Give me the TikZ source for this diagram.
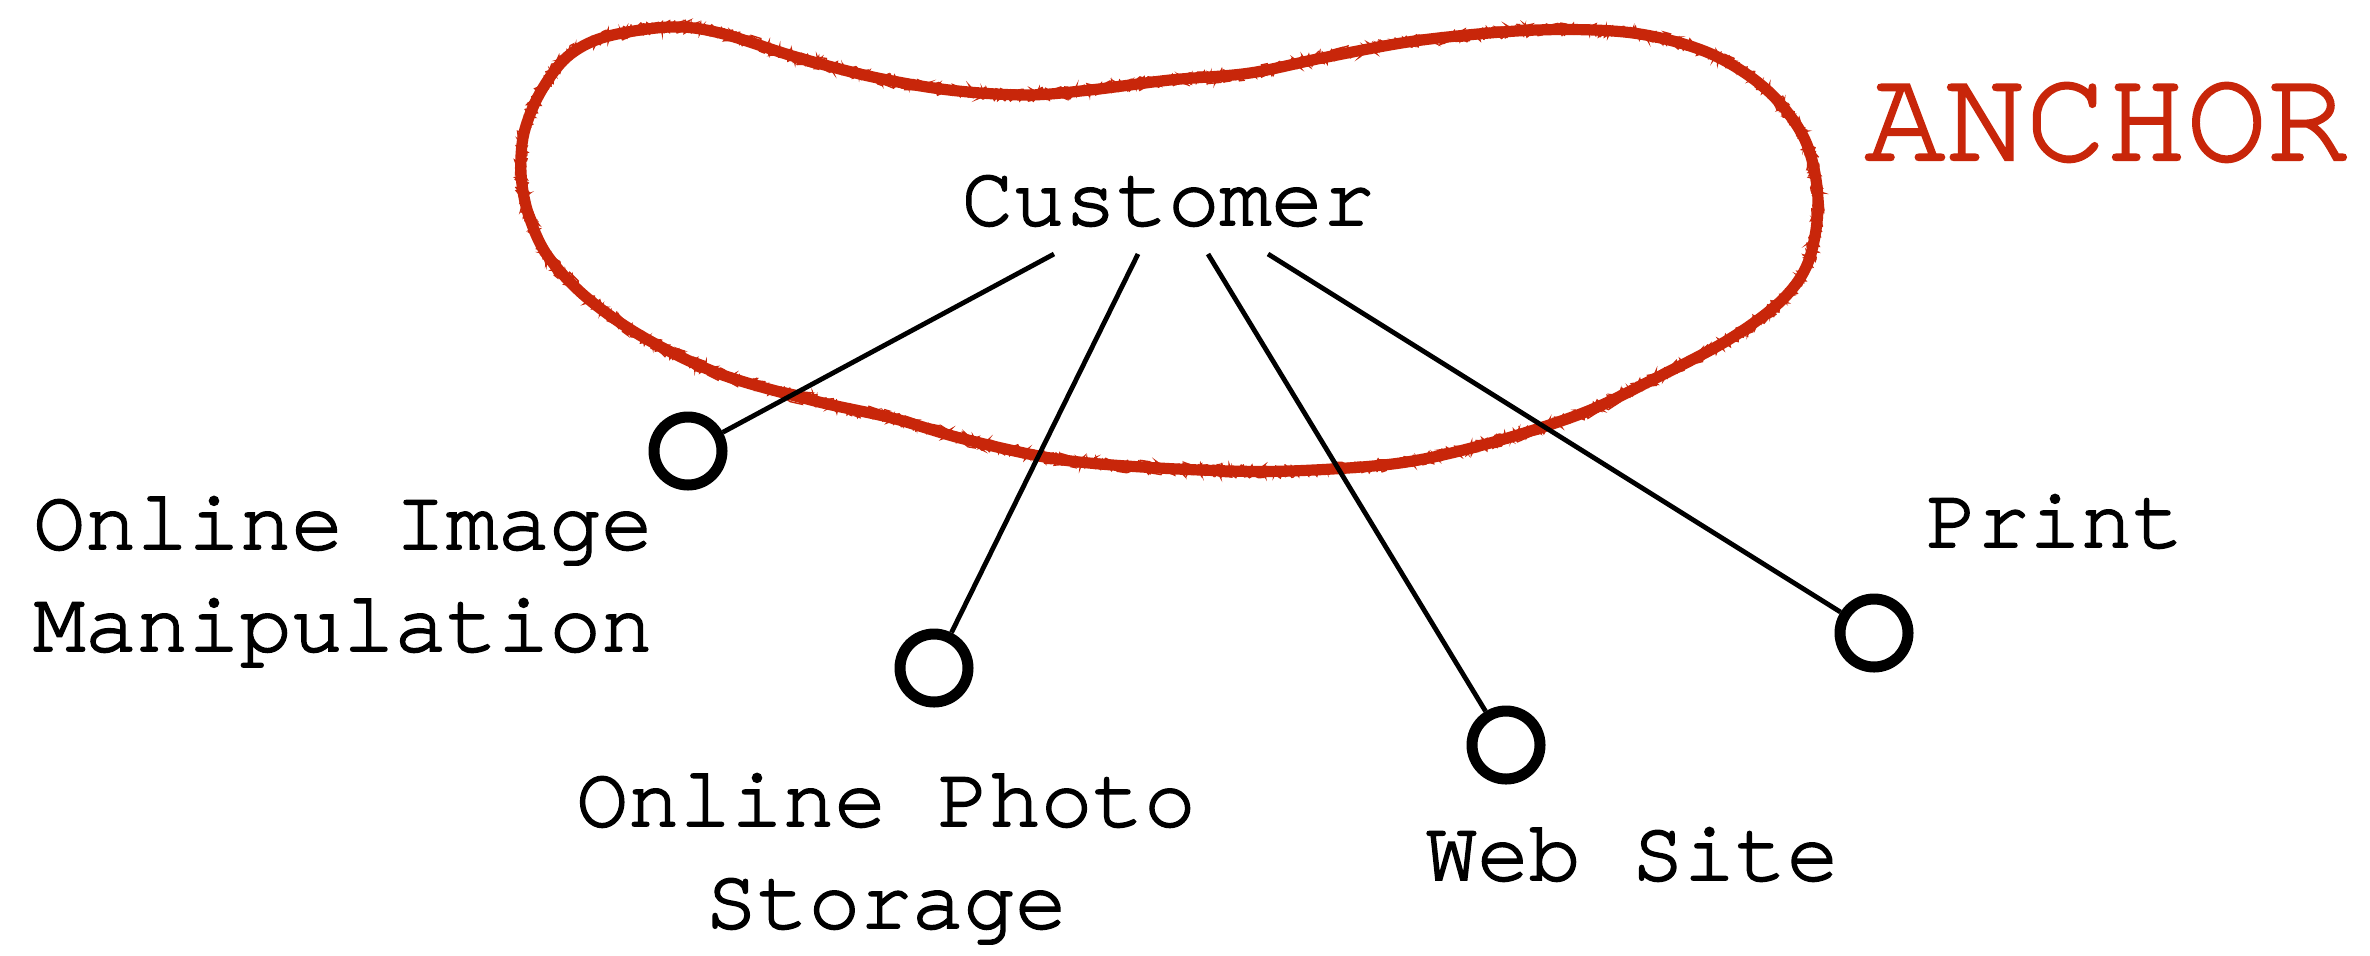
\documentclass[tikz,border=0pt]{standalone}
\usepackage{fontspec}
\newfontfamily\cour{texgyrecursor-regular.otf}[FakeBold=2.2]
\newfontfamily\courA{texgyrecursor-regular.otf}[FakeBold=1.8]
\usetikzlibrary{decorations.pathmorphing}
\definecolor{anchorred}{RGB}{200,38,10}
\begin{document}
\begin{tikzpicture}[x=0.5pt,y=-0.5pt,
  lbl/.style={font=\cour\fontsize{43}{51}\selectfont, inner sep=0pt, anchor=base},
  endpt/.style={circle, draw=black, line width=5.5pt, minimum size=34pt, inner sep=0pt},
  link/.style={draw=black, line width=2.4pt},
  blob/.style={draw=anchorred, line width=5.6pt, line join=round},
  fuzz/.style={draw=anchorred, line width=0.7pt, decorate,
    decoration={random steps, segment length=1.8pt, amplitude=3.4pt}}]
\useasboundingbox (0,0) rectangle (2370,955);
\fill[white] (0,0) rectangle (2370,955);

% blob outline
\def\blobpts{(605,37) (670,27) (720,33) (796,57) (873,77) (949,90) (1026,95) (1090,90) (1170,80) (1250,73) (1327,57) (1422,40) (1537,30) (1633,33) (1709,53) (1767,90) (1805,140) (1818,200) (1809,260) (1782,300) (1728,340) (1652,380) (1583,413) (1490,443) (1400,463) (1290,471) (1200,470) (1100,464) (1039,456) (960,438) (892,418) (815,401) (720,374) (643,337) (586,297) (547,255) (528,213) (521,173) (524,133) (540,93) (567,57)}
\draw[blob] plot[smooth cycle, tension=0.55] coordinates {\blobpts};
\pgfmathsetseed{7}
\draw[fuzz] plot[smooth cycle, tension=0.55] coordinates {\blobpts};
\pgfmathsetseed{19}
\draw[fuzz] plot[smooth cycle, tension=0.55] coordinates {\blobpts};
\pgfmathsetseed{43}
\draw[fuzz] plot[smooth cycle, tension=0.55] coordinates {\blobpts};
\pgfmathsetseed{88}
\draw[fuzz] plot[smooth cycle, tension=0.55] coordinates {\blobpts};

% labels
\node[lbl] (cust) at (1168,225) {Customer};
\node[font=\courA\fontsize{67}{80}\selectfont, text=anchorred, inner sep=0pt, anchor=base] (anchor) at (2106,160) {ANCHOR};
\node[lbl, anchor=base west, align=left] (oim) at (33,651) {Online Image\\Manipulation};
\node[lbl, align=center] (ops) at (886,928) {Online Photo\\Storage};
\node[lbl] (web) at (1632,880) {Web Site};
\node[lbl] (print) at (2055,547) {Print};

% end points
\node[endpt] (n1) at (688,451) {};
\node[endpt] (n2) at (934,668) {};
\node[endpt] (n3) at (1506,745) {};
\node[endpt] (n4) at (1874,633) {};

% line starts below Customer
\coordinate (s1) at (1054,254);
\coordinate (s2) at (1138,254);
\coordinate (s3) at (1208,254);
\coordinate (s4) at (1268,254);

\draw[link] (s1) -- (n1);
\draw[link] (s2) -- (n2);
\draw[link] (s3) -- (n3);
\draw[link] (s4) -- (n4);
\end{tikzpicture}
\end{document}
